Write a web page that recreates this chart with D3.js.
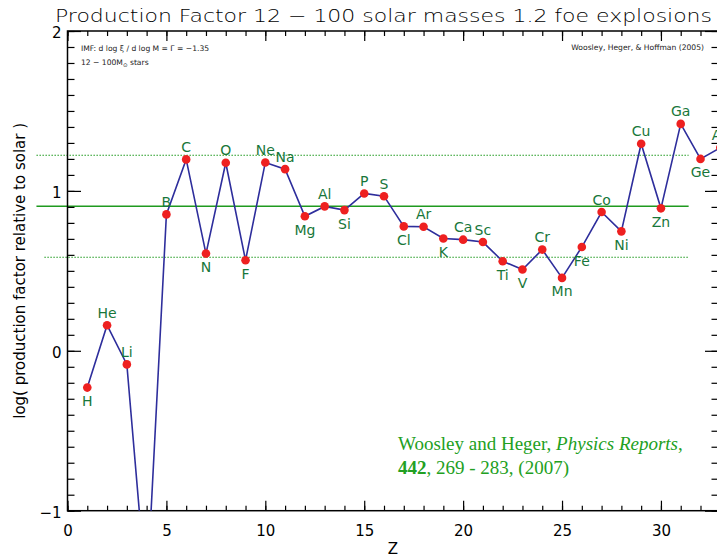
<!DOCTYPE html>
<html>
<head>
<meta charset="utf-8">
<script src="https://cdn.jsdelivr.net/npm/d3@7"></script>
<style>
  html, body { margin: 0; padding: 0; background: #fff; }
  svg { display: block; }
  text { font-family: "DejaVu Sans", sans-serif; }
</style>
</head>
<body>
<svg id="chart" width="717" height="559"></svg>
<script>
// Atomic number, element symbol and log production factor relative to solar
const Z = [1, 2, 3, 4, 5, 6, 7, 8, 9, 10, 11, 12, 13, 14, 15, 16, 17, 18, 19, 20,
           21, 22, 23, 24, 25, 26, 27, 28, 29, 30, 31, 32, 33];
const symbols = ["H", "He", "Li", "Be", "B", "C", "N", "O", "F", "Ne", "Na", "Mg", "Al", "Si",
                 "P", "S", "Cl", "Ar", "K", "Ca", "Sc", "Ti", "V", "Cr", "Mn", "Fe", "Co", "Ni",
                 "Cu", "Zn", "Ga", "Ge", "As"];
const logPF = [-0.23, 0.16, -0.085, -1.54, 0.853, 1.197, 0.608, 1.176, 0.566, 1.178, 1.136,
               0.841, 0.903, 0.880, 0.984, 0.967, 0.778, 0.776, 0.702, 0.695, 0.680, 0.560,
               0.508, 0.633, 0.456, 0.649, 0.868, 0.747, 1.295, 0.891, 1.419, 1.200, 1.270];

// Reference levels: mean production factor and the band around it
const meanLevel = 0.904;
const bandLevels = [1.223, 0.585];

// Axis ticks
const xMajorTicks = [0, 5, 10, 15, 20, 25, 30];
const yMajorTicks = [-1, 0, 1, 2];

(function draw() {
  const svg = d3.select("#chart");
  const pLeft = 67.5, pRight = 718.5, pTop = 31, pBottom = 510.7;
  const midX = (pLeft + pRight) / 2, midY = (pTop + pBottom) / 2;

  const x = d3.scaleLinear().domain([0, 32.91]).range([pLeft, pRight]);
  const y = d3.scaleLinear().domain([-1, 2]).range([pBottom, pTop]);

  const xMinor = d3.range(0, 33, 1);
  const yMinor = d3.range(-10, 21, 1).map(d => d / 10);

  // Clip for the series
  svg.append("clipPath").attr("id", "plotclip")
    .append("rect")
    .attr("x", pLeft).attr("y", pTop)
    .attr("width", pRight - pLeft + 20).attr("height", pBottom - pTop);

  // Reference lines (drawn slightly past the left axis, as in the original plot)
  const green = "#1f9a1f";
  svg.append("line")
    .attr("x1", x(-1.57)).attr("x2", x(31.4))
    .attr("y1", y(meanLevel)).attr("y2", y(meanLevel))
    .attr("stroke", green).attr("stroke-width", 1.6);
  svg.selectAll("line.band").data(bandLevels).join("line")
    .attr("class", "band")
    .attr("x1", (d, i) => x(i === 0 ? -1.57 : -1.17)).attr("x2", x(31.4))
    .attr("y1", d => y(d)).attr("y2", d => y(d))
    .attr("stroke", green).attr("stroke-width", 1.2)
    .attr("stroke-dasharray", "1.5,1.5");

  // Axes
  function axisGroup(axis, tx, ty) {
    const g = svg.append("g").attr("transform", `translate(${tx},${ty})`).call(axis);
    g.select(".domain").remove();
    g.selectAll("line").attr("stroke", "#000").attr("stroke-width", 1.2);
    return g;
  }
  // bottom
  axisGroup(d3.axisBottom(x).tickValues(xMinor).tickSize(-5).tickFormat(""), 0, pBottom);
  const xb = axisGroup(d3.axisBottom(x).tickValues(xMajorTicks).tickSize(-10).tickPadding(15).tickFormat(d3.format("d")), 0, pBottom);
  xb.selectAll("text").attr("font-size", 15).attr("fill", "#000")
    .attr("font-family", "DejaVu Sans, sans-serif");
  // top
  axisGroup(d3.axisTop(x).tickValues(xMinor).tickSize(-5).tickFormat(""), 0, pTop);
  axisGroup(d3.axisTop(x).tickValues(xMajorTicks).tickSize(-10).tickFormat(""), 0, pTop);
  // left
  axisGroup(d3.axisLeft(y).tickValues(yMinor).tickSize(-7).tickFormat(""), pLeft, 0);
  const yl = axisGroup(d3.axisLeft(y).tickValues(yMajorTicks).tickSize(-13.5).tickPadding(6).tickFormat(d3.format("d")), pLeft, 0);
  yl.selectAll("text").attr("font-size", 15).attr("fill", "#000").attr("dy", "0.42em")
    .attr("font-family", "DejaVu Sans, sans-serif");
  // right
  axisGroup(d3.axisRight(y).tickValues(yMinor).tickSize(-7).tickFormat(""), pRight, 0);
  axisGroup(d3.axisRight(y).tickValues(yMajorTicks).tickSize(-13.5).tickFormat(""), pRight, 0);

  // Frame
  svg.append("rect")
    .attr("x", pLeft).attr("y", pTop)
    .attr("width", pRight - pLeft).attr("height", pBottom - pTop)
    .attr("fill", "none").attr("stroke", "#000").attr("stroke-width", 1.5);

  // Series
  const pts = Z.map((z, i) => ({ z, sym: symbols[i], v: logPF[i] }));
  const series = svg.append("g").attr("clip-path", "url(#plotclip)");
  series.append("path")
    .datum(pts)
    .attr("d", d3.line().x(d => x(d.z)).y(d => y(d.v)))
    .attr("fill", "none").attr("stroke", "#2e2e9c").attr("stroke-width", 1.6);
  series.selectAll("circle").data(pts).join("circle")
    .attr("cx", d => x(d.z)).attr("cy", d => y(d.v)).attr("r", 4.3)
    .attr("fill", "#ee2020");

  // Element labels: above a local high, below a local low
  function above(i) {
    const prev = i > 0 ? pts[i - 1].v : pts[i + 1].v;
    const next = i < pts.length - 1 ? pts[i + 1].v : pts[i - 1].v;
    return pts[i].v >= (prev + next) / 2;
  }
  const [yLo, yHi] = y.domain();
  const labelled = pts.map((d, i) => ({ ...d, up: above(i) }))
    .filter(d => d.v >= yLo && d.v <= yHi);
  svg.selectAll("text.elem").data(labelled).join("text")
    .attr("class", "elem")
    .attr("x", d => x(d.z))
    .attr("y", d => d.up ? y(d.v) - 7.5 : y(d.v) + 18.5)
    .attr("text-anchor", "middle")
    .attr("font-size", 14)
    .attr("fill", "#18773a")
    .text(d => d.sym);

  // Title and axis titles
  svg.append("text")
    .attr("x", 55).attr("y", 21.7)
    .attr("font-size", 18.5).attr("font-weight", 200)
    .attr("textLength", 657).attr("lengthAdjust", "spacingAndGlyphs")
    .attr("fill", "#000")
    .text("Production Factor 12 \u2212 100 solar masses 1.2 foe explosions");

  svg.append("text")
    .attr("x", midX).attr("y", 554)
    .attr("text-anchor", "middle").attr("font-size", 15).attr("fill", "#000")
    .text("Z");

  svg.append("text")
    .attr("transform", `translate(25,${midY}) rotate(-90)`)
    .attr("text-anchor", "middle").attr("font-size", 15).attr("fill", "#000")
    .text("log( production factor relative to solar )");

  // Small annotations
  svg.append("text").attr("x", 81).attr("y", 50.5)
    .attr("font-size", 7.6).attr("fill", "#222")
    .text("IMF: d log \u03BE / d log M = \u0393 = \u22121.35");
  const note2 = svg.append("text").attr("x", 81).attr("y", 64.5)
    .attr("font-size", 7.6).attr("fill", "#222");
  note2.append("tspan").text("12 \u2212 100M");
  note2.append("tspan").attr("font-size", 5.5).attr("dy", 2).text("\u2299");
  note2.append("tspan").attr("dy", -2).text(" stars");

  svg.append("text").attr("x", 704).attr("y", 49.5)
    .attr("text-anchor", "end").attr("font-size", 7.6).attr("fill", "#222")
    .text("Woosley, Heger, & Hoffman (2005)");

  // Citation
  const cite = svg.append("g").attr("font-size", 19).attr("fill", "#22a022");
  const c1 = cite.append("text").attr("x", 398).attr("y", 450)
    .style("font-family", "'Liberation Serif', serif");
  c1.append("tspan").text("Woosley and Heger, ");
  c1.append("tspan").attr("font-style", "italic").text("Physics Reports");
  c1.append("tspan").text(",");
  const c2 = cite.append("text").attr("x", 398).attr("y", 474)
    .style("font-family", "'Liberation Serif', serif");
  c2.append("tspan").attr("font-weight", "bold").text("442");
  c2.append("tspan").text(", 269 - 283, (2007)");
})();
</script>
</body>
</html>
